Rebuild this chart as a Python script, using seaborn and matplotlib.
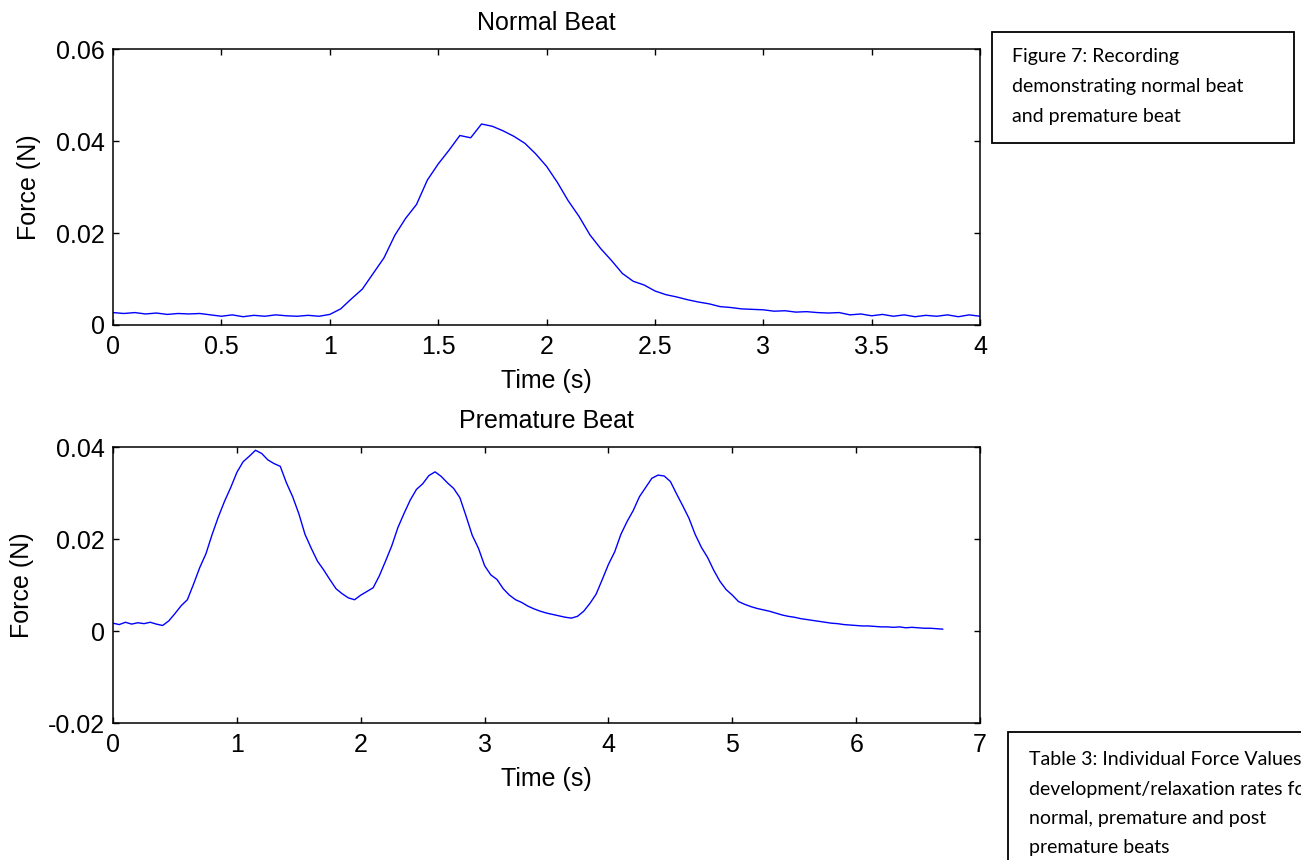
import numpy as np
import matplotlib
matplotlib.use("Agg")
import matplotlib.pyplot as plt
import seaborn as sns
from matplotlib.ticker import FuncFormatter
from matplotlib.patches import Rectangle

sns.set_style("ticks")
plt.rcParams['font.family'] = ['Liberation Sans', 'DejaVu Sans']
plt.rcParams['text.color'] = 'black'
plt.rcParams['axes.labelcolor'] = 'black'

# sampling interval of the traces (s)
dt = 0.05

# force readings (N), normal beat, 0 - 4 s
normal_force = [
    0.0027, 0.0025, 0.0027, 0.0024, 0.0026, 0.0023, 0.0025, 0.0024, 0.0025, 0.0022,
    0.0019, 0.0022, 0.0018, 0.0021, 0.0019, 0.0022, 0.0020, 0.0019, 0.0021, 0.0019,
    0.0023, 0.0035, 0.0057, 0.0078, 0.0112, 0.0146, 0.0195, 0.0232, 0.0262, 0.0315,
    0.0350, 0.0380, 0.0412, 0.0407, 0.0437, 0.0432, 0.0422, 0.0410, 0.0395, 0.0372,
    0.0345, 0.0310, 0.0270, 0.0236, 0.0196, 0.0166, 0.0140, 0.0112, 0.0095, 0.0087,
    0.0074, 0.0066, 0.0061, 0.0055, 0.0050, 0.0046, 0.0040, 0.0038, 0.0035, 0.0034,
    0.0033, 0.0030, 0.0031, 0.0028, 0.0029, 0.0027, 0.0026, 0.0027, 0.0022, 0.0024,
    0.0020, 0.0023, 0.0019, 0.0022, 0.0018, 0.0021, 0.0019, 0.0022, 0.0018, 0.0022,
    0.0019,
]

# force readings (N), premature beat recording, 0 - 6.7 s
premature_force = [
    0.0017, 0.0014, 0.0019, 0.0015, 0.0018, 0.0016, 0.0019, 0.0015, 0.0012, 0.0022,
    0.0038, 0.0055, 0.0068, 0.0102, 0.0138, 0.0168, 0.0210, 0.0248, 0.0282, 0.0312,
    0.0345, 0.0368, 0.0380, 0.0393, 0.0386, 0.0372, 0.0364, 0.0358, 0.0322, 0.0292,
    0.0255, 0.0210, 0.0180, 0.0152, 0.0133, 0.0112, 0.0092, 0.0081, 0.0072, 0.0068,
    0.0078, 0.0086, 0.0094, 0.0120, 0.0152, 0.0185, 0.0225, 0.0256, 0.0285, 0.0308,
    0.0320, 0.0338, 0.0346, 0.0336, 0.0322, 0.0310, 0.0290, 0.0250, 0.0208, 0.0180,
    0.0142, 0.0122, 0.0112, 0.0092, 0.0078, 0.0068, 0.0062, 0.0054, 0.0048, 0.0043,
    0.0039, 0.0036, 0.0033, 0.0030, 0.0028, 0.0032, 0.0043, 0.0060, 0.0080, 0.0112,
    0.0145, 0.0172, 0.0210, 0.0238, 0.0262, 0.0292, 0.0312, 0.0332, 0.0339, 0.0337,
    0.0325, 0.0298, 0.0272, 0.0245, 0.0210, 0.0182, 0.0160, 0.0132, 0.0108, 0.0090,
    0.0078, 0.0064, 0.0058, 0.0053, 0.0049, 0.0046, 0.0043, 0.0039, 0.0035, 0.0032,
    0.0030, 0.0027, 0.0025, 0.0023, 0.0021, 0.0019, 0.0017, 0.0016, 0.0014, 0.0013,
    0.0012, 0.0011, 0.0011, 0.0010, 0.0009, 0.0009, 0.0008, 0.0009, 0.0007, 0.0008,
    0.0007, 0.0006, 0.0006, 0.0005, 0.0004,
]

normal_time = np.round(np.arange(len(normal_force)) * dt, 2)
premature_time = np.round(np.arange(len(premature_force)) * dt, 2)

normal_xticks = [0, 0.5, 1, 1.5, 2, 2.5, 3, 3.5, 4]
normal_yticks = [0, 0.02, 0.04, 0.06]
premature_xticks = [0, 1, 2, 3, 4, 5, 6, 7]
premature_yticks = [-0.02, 0, 0.02, 0.04]

fig = plt.figure(figsize=(13.01, 8.60), dpi=100)
ax1 = fig.add_axes([0.0869, 0.6221, 0.6664, 0.3209])
ax2 = fig.add_axes([0.0869, 0.1593, 0.6664, 0.3209])

sns.lineplot(x=normal_time, y=normal_force, ax=ax1, color="#0000ff", lw=1.0)
sns.lineplot(x=premature_time, y=premature_force, ax=ax2, color="#0000ff", lw=1.0)

fmt = FuncFormatter(lambda v, p: "{:g}".format(round(v, 4)))


def matlab_style(ax, title, xticks, yticks, ylab_x):
    ax.set_xlim(xticks[0], xticks[-1])
    ax.set_ylim(yticks[0], yticks[-1])
    ax.set_xticks(xticks)
    ax.set_yticks(yticks)
    ax.xaxis.set_major_formatter(fmt)
    ax.yaxis.set_major_formatter(fmt)
    ax.tick_params(direction="in", length=4, width=1, top=True, right=True,
                   labelsize=18, colors="black")
    ax.tick_params(axis="x", pad=7)
    ax.tick_params(axis="y", pad=6)
    for s in ax.spines.values():
        s.set_visible(True)
        s.set_color("black")
        s.set_linewidth(1.1)
    ax.set_title(title, fontsize=18, pad=14, color="black")
    ax.set_xlabel("Time (s)", fontsize=18, va="top", color="black")
    ax.set_ylabel("Force (N)", fontsize=18, color="black")
    ax.xaxis.set_label_coords(0.5, -0.161)
    ax.yaxis.set_label_coords(ylab_x, 0.5)


matlab_style(ax1, "Normal Beat", normal_xticks, normal_yticks, -0.083)
matlab_style(ax2, "Premature Beat", premature_xticks, premature_yticks, -0.091)

# caption boxes on the right
W, H = 1301, 860
fig.patches.append(Rectangle((992 / W, 1 - 143 / H), 302 / W, 111 / H,
                             transform=fig.transFigure, fill=False,
                             edgecolor="black", lw=1.3))
fig_lines = ["Figure 7: Recording", "demonstrating normal beat", "and premature beat"]
for i, line in enumerate(fig_lines):
    fig.text(1012 / W, 1 - (62 + 30 * i) / H, line, fontsize=14,
             family=["Lato", "DejaVu Sans"], va="baseline", ha="left")

# this box runs off the page in the original, its text is cut at the edge
fig.patches.append(Rectangle((1008 / W, -0.2), 0.5, 1 - 732 / H + 0.2,
                             transform=fig.transFigure, fill=False,
                             edgecolor="black", lw=1.3))
table_lines = ["Table 3: Individual Force Values",
               "development/relaxation rates for",
               "normal, premature and post",
               "premature beats"]
for i, line in enumerate(table_lines):
    fig.text(1029 / W, 1 - (765 + 29.5 * i) / H, line, fontsize=14,
             family=["Lato", "DejaVu Sans"], va="baseline", ha="left")

fig.savefig("out.png", dpi=100)
